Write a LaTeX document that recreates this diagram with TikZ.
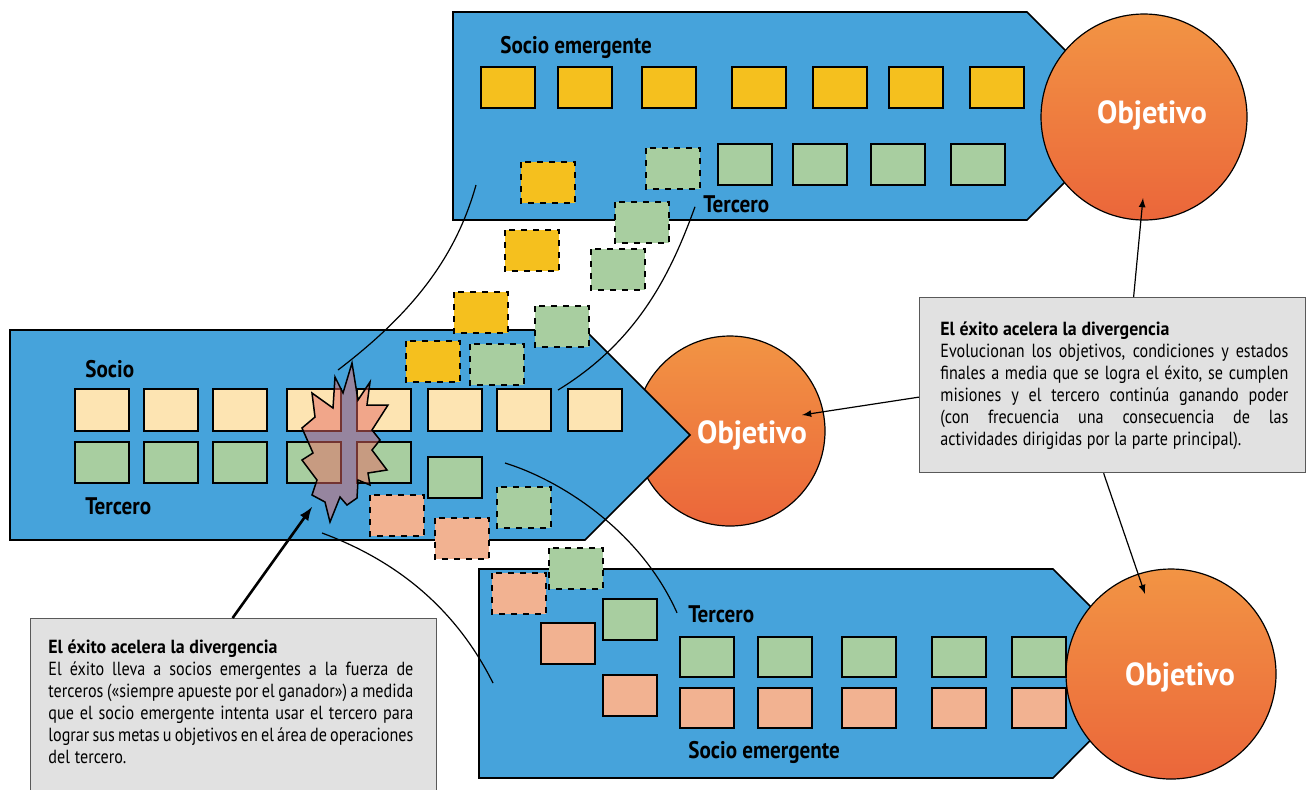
\documentclass[tikz,border=0pt]{standalone}
\usepackage{fontspec}
\setmainfont{PT Sans}[FakeStretch=0.85, BoldFeatures={FakeStretch=0.94}]
\newfontfamily\goalfont{PT Sans}[FakeStretch=0.95]
\newfontfamily\tagfont{PT Sans}[FakeStretch=0.88]
\hyphenpenalty=10000
\newcommand\notespacing{\spaceskip=0.25em plus 0.4em minus 0.1em\relax}
\definecolor{bandblue}{RGB}{70,163,219}
\definecolor{goldbox}{RGB}{245,192,30}
\definecolor{creambox}{RGB}{253,228,178}
\definecolor{greenbox}{RGB}{168,206,160}
\definecolor{salmonbox}{RGB}{242,178,145}
\definecolor{notegray}{RGB}{225,225,225}
\definecolor{goaltop}{RGB}{242,148,68}
\definecolor{goalbottom}{RGB}{235,102,58}
\definecolor{burstred}{RGB}{230,105,100}

\begin{document}
\begin{tikzpicture}[x=0.5pt, y=-0.5pt,
        band/.style={draw=black, line width=0.8pt, fill=bandblue},
        goal/.style={circle, draw=black, line width=0.6pt, top color=goaltop, bottom color=goalbottom, minimum size=#1, inner sep=0pt},
        goaltext/.style={text=white, font=\goalfont\bfseries\fontsize{16}{19}\selectfont, inner sep=0pt, anchor=base},
        tag/.style={font=\tagfont\bfseries\fontsize{12}{14}\selectfont, inner sep=0pt, anchor=base west},
        sq/.style={draw=black, line width=0.75pt, fill=#1},
        dsq/.style={draw=black, line width=0.75pt, dashed, fill=#1},
        burst/.style={draw=black, line width=0.75pt, fill=burstred, fill opacity=0.5},
        notebox/.style={draw=black!65, line width=0.6pt, fill=notegray, anchor=north west},
        notetext/.style={font=\fontsize{9.5}{11}\selectfont, align=justify, inner sep=0pt, anchor=base west},
        link/.style={line width=0.6pt},
        pointer/.style={-latex, line width=0.6pt},
        bigpointer/.style={-latex, line width=1.3pt}]

    \useasboundingbox (0,0) rectangle (1310,789);

    \draw[band] (453,12) -- (1027,12) -- (1131,116) -- (1027,220) -- (453,220) -- cycle;
    \node[goal=103pt] (goalA) at (1144,117) {};

    \node[goal=95pt] (goalB) at (730,431) {};
    \draw[band] (10,330) -- (585,330) -- (690,435) -- (585,540) -- (10,540) -- cycle;

    \draw[band] (479,569) -- (1053,569) -- (1157,673) -- (1053,778) -- (479,778) -- cycle;
    \node[goal=105pt] (goalC) at (1171,674) {};

    \foreach \x in {481,558,642,732,813,889,970} \draw[sq=goldbox] (\x,67) rectangle ++(54,41);
    \foreach \x in {718,793,871,951} \draw[sq=greenbox] (\x,144) rectangle ++(54,41);
    \foreach \x in {75,144,213,287,357,428,497,568} \draw[sq=creambox] (\x,389) rectangle ++(54,42);
    \foreach \x in {75,144,213,287,357} \draw[sq=greenbox] (\x,442) rectangle ++(54,41);
    \draw[sq=greenbox] (428,457) rectangle ++(54,41);
    \draw[sq=greenbox] (603,599) rectangle ++(54,41);
    \foreach \x/\y in {541/623,603/675} \draw[sq=salmonbox] (\x,\y) rectangle ++(54,41);
    \foreach \x in {680,758,842,932,1012} {
        \draw[sq=greenbox] (\x,637) rectangle ++(54,40);
        \draw[sq=salmonbox] (\x,688) rectangle ++(54,40);
    }

    \foreach \x/\y in {521/162,505/230,454/292,406/341} \draw[dsq=goldbox] (\x,\y) rectangle ++(54,41);
    \foreach \x/\y in {646/148,615/202,591/249,535/306,470/344,497/487,549/548} \draw[dsq=greenbox] (\x,\y) rectangle ++(54,41);
    \foreach \x/\y in {370/495,435/518,492/573} \draw[dsq=salmonbox] (\x,\y) rectangle ++(54,41);

    \draw[burst] (352,363) -- (358,400) -- (370,382) -- (367,405) -- (388,405) -- (372,430) -- (380,440)
        -- (372,450) -- (387,470) -- (368,473) -- (370,485) -- (358,480) -- (357,498) -- (347,505)
        -- (340,497) -- (330,522) -- (325,502) -- (312,495) -- (317,480) -- (302,460) -- (313,453)
        -- (302,428) -- (315,417) -- (312,393) -- (333,408) -- (335,377) -- (343,393) -- cycle;

    \node[tag] (semA) at (500,53) {Socio emergente};
    \node[tag] (terA) at (703,212) {Tercero};
    \node[tag] (socB) at (85,377) {Socio};
    \node[tag] (terB) at (85,514) {Tercero};
    \node[tag] (terC) at (688,622) {Tercero};
    \node[tag] (semC) at (688,758) {Socio emergente};

    \node[goaltext] (objA) at (1152,123) {Objetivo};
    \node[goaltext] (objB) at (752,443) {Objetivo};
    \node[goaltext] (objC) at (1180,685) {Objetivo};

    \node[notebox, minimum width=203pt, minimum height=100pt] (noteL) at (30,618) {};
    \node[notetext, text width=182.5pt] (textL) at (48,653) {\notespacing\textbf{El éxito acelera la divergencia}\\
        El éxito lleva a socios emergentes a la fuerza de\linebreak
        terceros («siempre apueste por el ganador») a medida\linebreak
        que el socio emergente intenta usar el tercero para\linebreak
        lograr sus metas u objetivos en el área de operaciones\linebreak
        del tercero.};

    \node[notebox, minimum width=193pt, minimum height=87.5pt] (noteR) at (919,297) {};
    \node[notetext, text width=174pt] (textR) at (940,335) {\notespacing\textbf{El éxito acelera la divergencia}\\
        Evolucionan los objetivos, condiciones y estados\linebreak
        finales a media que se logra el éxito, se cumplen\linebreak
        misiones y el tercero continúa ganando poder\linebreak
        (con frecuencia una consecuencia de las\linebreak
        actividades dirigidas por la parte principal).};

    \coordinate (topfoot) at (476,185);
    \coordinate (bursttop) at (338,370);
    \coordinate (creamtip) at (558,390);
    \coordinate (midfoot) at (505,463);
    \coordinate (burstfoot) at (322,533);
    \coordinate (lowfoot) at (493,683);
    \coordinate (hitA) at (1143,198);
    \coordinate (hitB) at (802,415);
    \coordinate (hitC) at (1145,594);
    \coordinate (hitburst) at (312,507);

    \draw[link] (topfoot) .. controls (455,260) and (410,315) .. (bursttop);
    \draw[link] ([shift={(-8,3)}]terA.west) .. controls (672,270) and (640,340) .. (creamtip);
    \draw[link] (midfoot) .. controls (560,480) and (640,530) .. ([shift={(-11,-1)}]terC.west);
    \draw[link] (burstfoot) .. controls (395,560) and (455,607) .. (lowfoot);

    \draw[pointer] ([xshift=10.5pt]noteR.north) -- (hitA);
    \draw[pointer] ([yshift=-6pt]noteR.west) -- (hitB);
    \draw[pointer] ([xshift=-4.5pt]noteR.south) -- (hitC);
    \draw[bigpointer] ([xshift=-0.5pt]noteL.north) -- (hitburst);
\end{tikzpicture}
\end{document}
